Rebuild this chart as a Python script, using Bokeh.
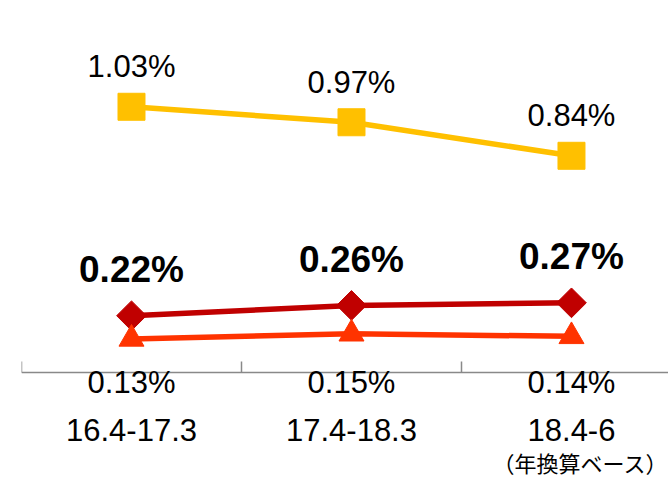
from bokeh.plotting import figure
from bokeh.models import ColumnDataSource, LabelSet, Label, Range1d, FixedTicker
from bokeh.embed import file_html
from bokeh.resources import INLINE
from bokeh.core.properties import value
import math

# ---- data ----
categories = ["16.4-17.3", "17.4-18.3", "18.4-6"]
series_top = [1.03, 0.97, 0.84]      # yellow squares
series_mid = [0.22, 0.26, 0.27]      # dark red diamonds (bold labels)
series_low = [0.13, 0.15, 0.14]      # orange triangles
note_text = "（年換算ベース）"

xs = [i + 0.5 for i in range(len(categories))]

def fmt(v):
    return [f"{x:.2f}%" for x in v]

src = ColumnDataSource(dict(
    x=xs,
    top=series_top, mid=series_mid, low=series_low,
    top_lbl=fmt(series_top), mid_lbl=fmt(series_mid), low_lbl=fmt(series_low),
    base=[0.0] * len(categories),
))

YELLOW = "#FFC000"
DARKRED = "#C00000"
ORANGE = "#FF3300"
FONT = "Liberation Sans"

p = figure(width=668, height=478, output_backend="svg", toolbar_location=None,
           x_range=Range1d(0, 2.941), y_range=Range1d(-0.411, 1.442),
           min_border_left=21, min_border_right=0, min_border_top=0,
           min_border_bottom=0)
p.outline_line_color = None
p.xgrid.visible = False
p.ygrid.visible = False
p.yaxis.visible = False
p.background_fill_color = "white"
p.border_fill_color = "white"

# lines + markers
p.line("x", "top", source=src, line_color=YELLOW, line_width=5.5)
p.scatter("x", "top", source=src, marker="square", size=27,
          fill_color=YELLOW, line_color=YELLOW)

p.line("x", "mid", source=src, line_color=DARKRED, line_width=5.5)
p.scatter("x", "mid", source=src, marker="square", size=21, angle=math.pi / 4,
          fill_color=DARKRED, line_color=DARKRED)

p.line("x", "low", source=src, line_color=ORANGE, line_width=5.5)
p.scatter("x", "low", source=src, marker="triangle", size=25,
          fill_color=ORANGE, line_color=ORANGE)

# x axis, drawn at y = 0 inside the frame
ax = p.xaxis[0]
ax.fixed_location = 0
ax.ticker = FixedTicker(ticks=xs, minor_ticks=[0, 1, 2, 3])
ax.major_label_overrides = {x: c for x, c in zip(xs, categories)}
ax.major_tick_line_color = None
ax.major_tick_in = 0
ax.major_tick_out = 0
ax.minor_tick_in = 11
ax.minor_tick_out = 0
ax.minor_tick_line_color = "#898989"
ax.minor_tick_line_width = 1.5
ax.axis_line_color = "#898989"
ax.axis_line_width = 1.5
ax.major_label_text_font = FONT
ax.major_label_text_font_size = "31px"
ax.major_label_text_color = "black"
ax.major_label_standoff = 47

# data labels
p.add_layout(LabelSet(x="x", y="top", text="top_lbl", source=src,
                      y_offset=40, text_align="center", text_baseline="middle",
                      text_font=value(FONT), text_font_size="31px", text_color="black"))
p.add_layout(LabelSet(x="x", y="mid", text="mid_lbl", source=src,
                      y_offset=46, text_align="center", text_baseline="middle",
                      text_font=value(FONT), text_font_size="37px",
                      text_font_style="bold", text_color="black"))
p.add_layout(LabelSet(x="x", y="base", text="low_lbl", source=src,
                      y_offset=-10, text_align="center", text_baseline="middle",
                      text_font=value(FONT), text_font_size="31px", text_color="black"))

p.add_layout(Label(x=xs[-1], y=0, text=note_text, x_offset=97, y_offset=-90,
                   text_align="right", text_baseline="middle",
                   text_font="Noto Sans CJK JP", text_font_size="22px",
                   text_color="black"))

open("out.html", "w").write(file_html(p, INLINE))
